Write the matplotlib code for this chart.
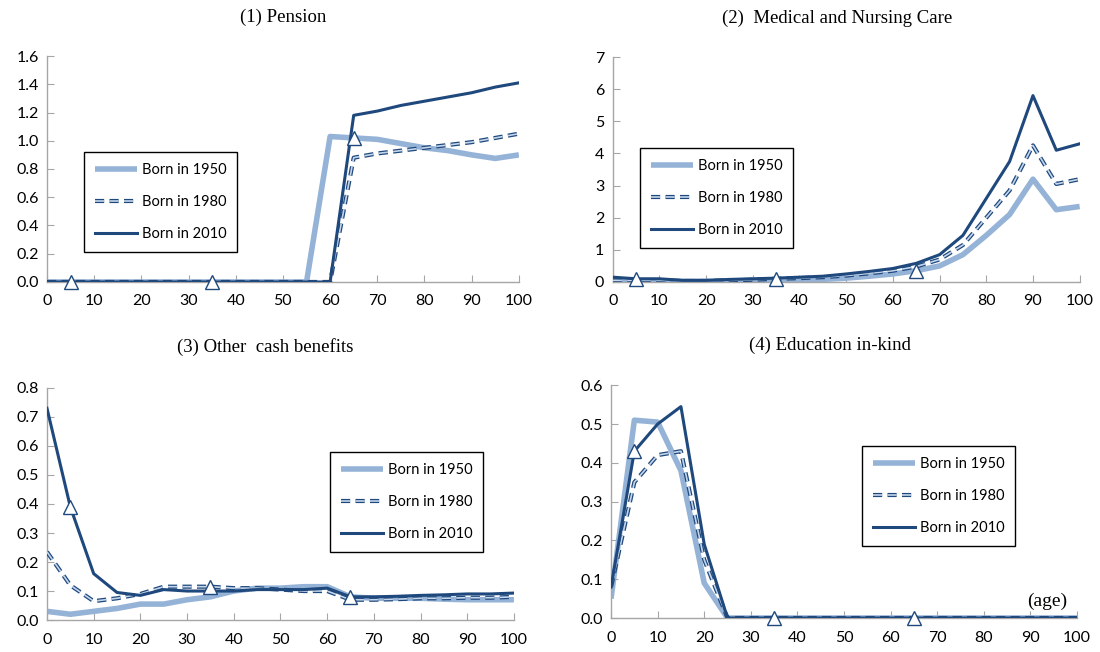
import numpy as np
import matplotlib
matplotlib.use("Agg")
import matplotlib.pyplot as plt
import matplotlib.patheffects as pe

ages = list(range(0, 101, 5))

# (1) Pension
pension_1950 = [0, 0, 0, 0, 0, 0, 0, 0, 0, 0, 0, 0, 1.03, 1.02, 1.01, 0.98, 0.95, 0.93, 0.90, 0.875, 0.90]
pension_1980 = [0, 0, 0, 0, 0, 0, 0, 0, 0, 0, 0, 0, 0, 0.88, 0.91, 0.93, 0.95, 0.97, 0.99, 1.02, 1.05]
pension_2010 = [0, 0, 0, 0, 0, 0, 0, 0, 0, 0, 0, 0, 0, 1.18, 1.21, 1.25, 1.28, 1.31, 1.34, 1.38, 1.41]

# (2) Medical and Nursing Care
medical_1950 = [0.02, 0.02, 0.02, 0.02, 0.02, 0.02, 0.03, 0.05, 0.05, 0.08, 0.12, 0.18, 0.25, 0.35, 0.50, 0.85, 1.45, 2.10, 3.20, 2.25, 2.35]
medical_1980 = [0.05, 0.05, 0.05, 0.03, 0.03, 0.05, 0.07, 0.10, 0.12, 0.15, 0.20, 0.27, 0.35, 0.48, 0.70, 1.15, 2.00, 2.85, 4.25, 3.05, 3.20]
medical_2010 = [0.15, 0.10, 0.10, 0.05, 0.05, 0.08, 0.10, 0.12, 0.15, 0.18, 0.25, 0.33, 0.42, 0.58, 0.85, 1.45, 2.60, 3.75, 5.80, 4.10, 4.30]

# (3) Other cash benefits
cash_1950 = [0.03, 0.02, 0.03, 0.04, 0.055, 0.055, 0.07, 0.08, 0.10, 0.11, 0.11, 0.115, 0.115, 0.08, 0.075, 0.075, 0.075, 0.072, 0.07, 0.07, 0.07]
cash_1980 = [0.235, 0.12, 0.065, 0.075, 0.09, 0.115, 0.115, 0.115, 0.11, 0.11, 0.105, 0.10, 0.10, 0.07, 0.07, 0.072, 0.075, 0.075, 0.077, 0.077, 0.08]
cash_2010 = [0.73, 0.39, 0.16, 0.095, 0.085, 0.105, 0.10, 0.10, 0.10, 0.105, 0.105, 0.105, 0.11, 0.08, 0.08, 0.082, 0.085, 0.087, 0.09, 0.09, 0.093]

# (4) Education in-kind
edu_1950 = [0.05, 0.51, 0.505, 0.38, 0.09] + [0] * 16
edu_1980 = [0.08, 0.35, 0.42, 0.43, 0.15] + [0] * 16
edu_2010 = [0.08, 0.43, 0.50, 0.545, 0.19] + [0] * 16

titles = ["(1) Pension", "(2)  Medical and Nursing Care", "(3) Other  cash benefits", "(4) Education in-kind"]
labels = ["Born in 1950", "Born in 1980", "Born in 2010"]
# ages in 2015 for each cohort (2010, 1980, 1950)
mark_ages = [5, 35, 65]

light = "#95b3d7"
dark = "#1f497d"

fig = plt.figure(figsize=(11, 6.52), dpi=100)

panels = [
    ([0.0427, 0.5675, 0.429, 0.3466], (pension_1950, pension_1980, pension_2010),
     (0, 1.6), np.arange(0, 1.61, 0.2), "%.1f", (283, 17), (0.0764, 0.767)),
    ([0.557, 0.5675, 0.4245, 0.345], (medical_1950, medical_1980, medical_2010),
     (0, 7), np.arange(0, 8, 1), "%d", (837, 18), (0.5818, 0.773)),
    ([0.0427, 0.049, 0.4245, 0.356], (cash_1950, cash_1980, cash_2010),
     (0, 0.8), np.arange(0, 0.81, 0.1), "%.1f", (265, 347), (0.300, 0.3067)),
    ([0.5555, 0.0521, 0.4236, 0.357], (edu_1950, edu_1980, edu_2010),
     (0, 0.6), np.arange(0, 0.61, 0.1), "%.1f", (830, 345), (0.7836, 0.316)),
]

tick_font = "Lato"

for i, (rect, series, ylim, yt, fmt, tpos, lpos) in enumerate(panels):
    ax = fig.add_axes(rect)
    s50, s80, s10 = series
    ax.plot(ages, s50, color=light, lw=4, solid_capstyle="butt", label=labels[0], zorder=2)
    ax.plot(ages, s80, color="#c5d6ec", lw=1.2, dashes=(5.5, 3.2), label=labels[1], zorder=3,
            path_effects=[pe.Stroke(linewidth=3.0, foreground=dark), pe.Normal()])
    ax.plot(ages, s10, color=dark, lw=2.2, label=labels[2], zorder=4)

    # triangles: each cohort in 2015
    mx = mark_ages
    my = [s10[ages.index(5)], s80[ages.index(35)], s50[ages.index(65)]]
    ax.plot(mx, my, ls="none", marker="^", ms=10, mfc="white", mec=dark, mew=1.0, zorder=5, clip_on=False)

    ax.set_xlim(0, 100)
    ax.set_ylim(*ylim)
    ax.set_xticks(range(0, 101, 10))
    ax.set_yticks(yt)
    ax.set_yticklabels([fmt % v for v in yt])
    for sp in ["top", "right"]:
        ax.spines[sp].set_visible(False)
    for sp in ["left", "bottom"]:
        ax.spines[sp].set_color("#a6a6a6")
        ax.spines[sp].set_linewidth(1.0)
    ax.tick_params(axis="both", direction="in", length=5, color="#a6a6a6", labelsize=11.5)
    ax.tick_params(axis="x", pad=9)
    ax.tick_params(axis="y", pad=6)
    for lab in ax.get_xticklabels() + ax.get_yticklabels():
        lab.set_fontfamily(tick_font)

    fig.text(tpos[0] / 1100, 1 - tpos[1] / 652, titles[i], ha="center", va="center",
             family="Liberation Serif", fontsize=13.5)

    leg = ax.legend(loc="upper left", bbox_to_anchor=lpos, bbox_transform=fig.transFigure,
                    frameon=True, fancybox=False, edgecolor="black", framealpha=1,
                    handlelength=2.9, labelspacing=1.25, borderpad=0.75, handletextpad=0.3,
                    borderaxespad=0, prop={"family": tick_font, "size": 10.5})
    leg.get_frame().set_linewidth(1.0)

    if i == 3:
        ax.text(98, 0.02, "(age)", ha="right", va="bottom", family="Liberation Serif", fontsize=14)

fig.savefig("out.png", dpi=100)
